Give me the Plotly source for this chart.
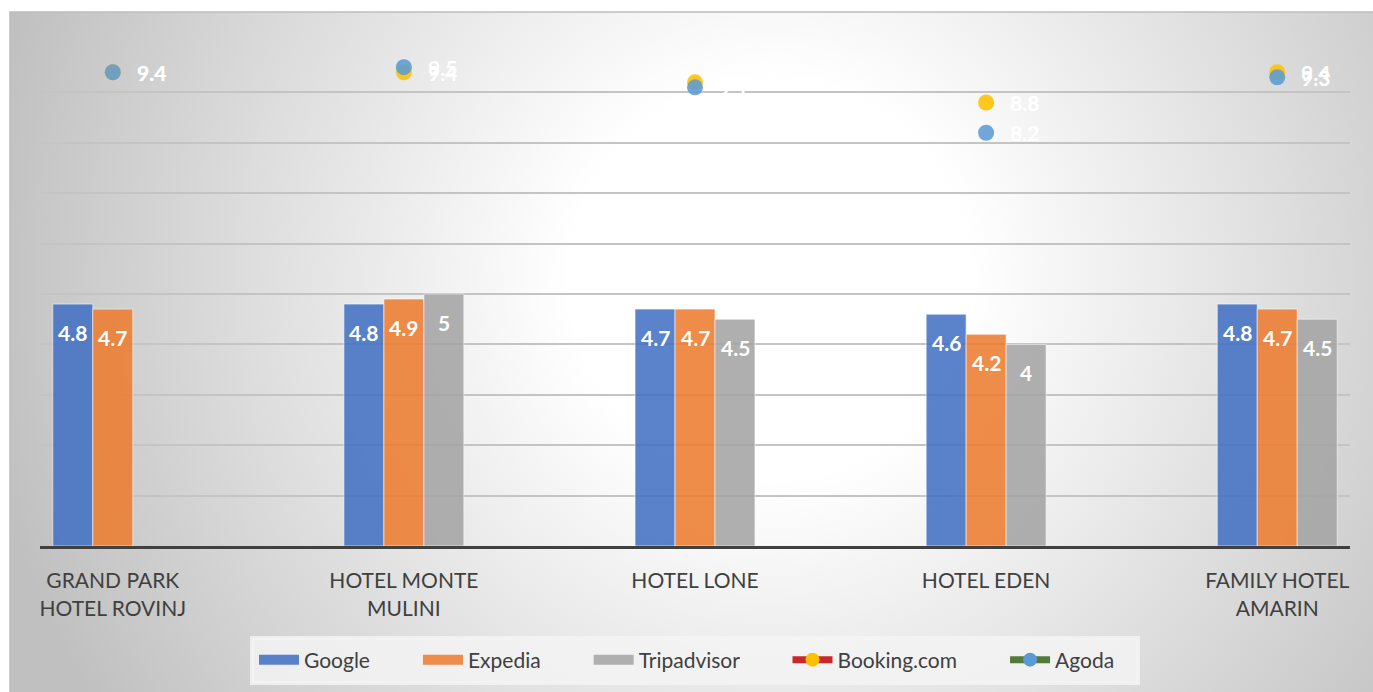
import base64
import plotly.graph_objects as go

hotels = ["GRAND PARK<br>HOTEL ROVINJ", "HOTEL MONTE<br>MULINI", "HOTEL LONE",
          "HOTEL EDEN", "FAMILY HOTEL<br>AMARIN"]
google = [4.8, 4.8, 4.7, 4.6, 4.8]
expedia = [4.7, 4.9, 4.7, 4.2, 4.7]
tripadvisor = [None, 5, 4.5, 4, 4.5]
booking = [9.4, 9.4, 9.2, 8.8, 9.4]
agoda = [9.4, 9.5, 9.1, 8.2, 9.3]

FONT = "Lato"
W, H = 1373, 692
L, R, T, B = 40, 23, 42, 146
PW, PH = W - L - R, H - T - B
NB = "\u00a0"

fig = go.Figure()

bar_series = [("Google", google, "#4472C4", "rgba(68,114,196,0.88)"),
              ("Expedia", expedia, "#ED7D31", "rgba(237,125,49,0.88)"),
              ("Tripadvisor", tripadvisor, "#A5A5A5", "rgba(165,165,165,0.88)")]
for name, vals, col, rgba in bar_series:
    fig.add_trace(go.Bar(
        name=name, x=hotels, y=vals,
        marker=dict(color=col, opacity=0.88,
                    line=dict(color="rgba(255,255,255,0.6)", width=1)),
        hoverinfo="skip", showlegend=False,
    ))

for name, vals, col in [("Booking.com", booking, "#FFC000"),
                        ("Agoda", agoda, "#5B9BD5")]:
    fig.add_trace(go.Scatter(
        name=name, x=hotels, y=vals, mode="markers",
        marker=dict(color=col, size=16, opacity=0.88),
        showlegend=False, hoverinfo="skip",
    ))

# legend entries
for name, vals, col, rgba in bar_series:
    fig.add_trace(go.Scatter(
        name=name + NB * 8, x=[None], y=[None], mode="lines",
        line=dict(color=rgba, width=10),
    ))
for name, lc, mc in [("Booking.com", "#C82828", "#FFC000"),
                     ("Agoda", "#55793A", "#5B9BD5")]:
    fig.add_trace(go.Scatter(
        name=name + (NB * 8 if name != "Agoda" else NB * 3), x=[None], y=[None],
        mode="lines+markers",
        line=dict(color=lc, width=7),
        marker=dict(color=mc, size=14),
    ))

annotations = []
for (name, vals, col, rgba), off in zip(bar_series, [-40, 0, 40]):
    for h, v in zip(hotels, vals):
        if v is None:
            continue
        annotations.append(dict(
            x=h, y=v, xref="x", yref="y", text=f"{v:g}", showarrow=False,
            xshift=off, yshift=-28, xanchor="center", yanchor="middle",
            font=dict(family=FONT, size=21, color="white", weight=700),
        ))
for vals in [booking, agoda]:
    for h, v in zip(hotels, vals):
        annotations.append(dict(
            x=h, y=v, xref="x", yref="y", text=f"{v:g}", showarrow=False,
            xshift=22, xanchor="left", yanchor="middle",
            font=dict(family=FONT, size=21, color="white", weight=700),
        ))

CX0, CY0 = 10, 12
cw, ch = W - CX0, H - CY0
svg = (f"<svg xmlns='http://www.w3.org/2000/svg' width='{cw}' height='{ch}' "
       f"viewBox='0 0 {cw} {ch}' preserveAspectRatio='none'><defs>"
       f"<radialGradient id='g' gradientUnits='userSpaceOnUse' cx='{770-CX0}' cy='{280-CY0}' r='800'>"
       "<stop offset='0' stop-color='#ffffff'/><stop offset='0.25' stop-color='#ffffff'/>"
       "<stop offset='1' stop-color='#c0c0c0'/></radialGradient></defs>"
       f"<rect width='{cw}' height='{ch}' fill='url(#g)'/></svg>")
src = "data:image/svg+xml;base64," + base64.b64encode(svg.encode()).decode()

px2x = lambda p: (p - L) / PW
px2y = lambda p: (H - B - p) / PH

fig.update_layout(
    width=W, height=H,
    margin=dict(l=L, r=R, t=T, b=B, autoexpand=False),
    paper_bgcolor="white", plot_bgcolor="rgba(0,0,0,0)",
    font=dict(family=FONT, color="#404040", size=21),
    barmode="group", bargap=0.588, bargroupgap=0,
    showlegend=True,
    legend=dict(orientation="h", x=px2x(695), y=px2y(660),
                xanchor="center", yanchor="middle",
                bgcolor="rgba(243,243,243,0.85)",
                bordercolor="rgba(243,243,243,0.85)", borderwidth=4,
                font=dict(family=FONT, size=21, color="#404040"),
                traceorder="normal", itemwidth=40),
    xaxis=dict(range=[-0.25, 4.25], showline=True, linecolor="#404040",
               linewidth=3, showgrid=False, ticks="", ticklabelstandoff=14,
               tickfont=dict(family=FONT, size=21, color="#404040")),
    yaxis=dict(range=[0, 10], dtick=1, showgrid=True, gridcolor="#c4c4c4",
               gridwidth=1.5, showticklabels=False, zeroline=False,
               showline=False),
    images=[dict(source=src, xref="paper", yref="paper",
                 x=px2x(CX0), y=px2y(CY0), sizex=cw / PW, sizey=ch / PH,
                 xanchor="left", yanchor="top", sizing="stretch",
                 layer="below")],
    shapes=[dict(type="rect", xref="paper", yref="paper",
                 x0=px2x(CX0), x1=px2x(W + 5), y0=px2y(H + 5), y1=px2y(CY0),
                 line=dict(color="#bdbdbd", width=1.5), layer="below")],
    annotations=annotations,
)

fig.write_html("out.html", config={"displayModeBar": False},
               post_script="document.body.style.margin='0';")
